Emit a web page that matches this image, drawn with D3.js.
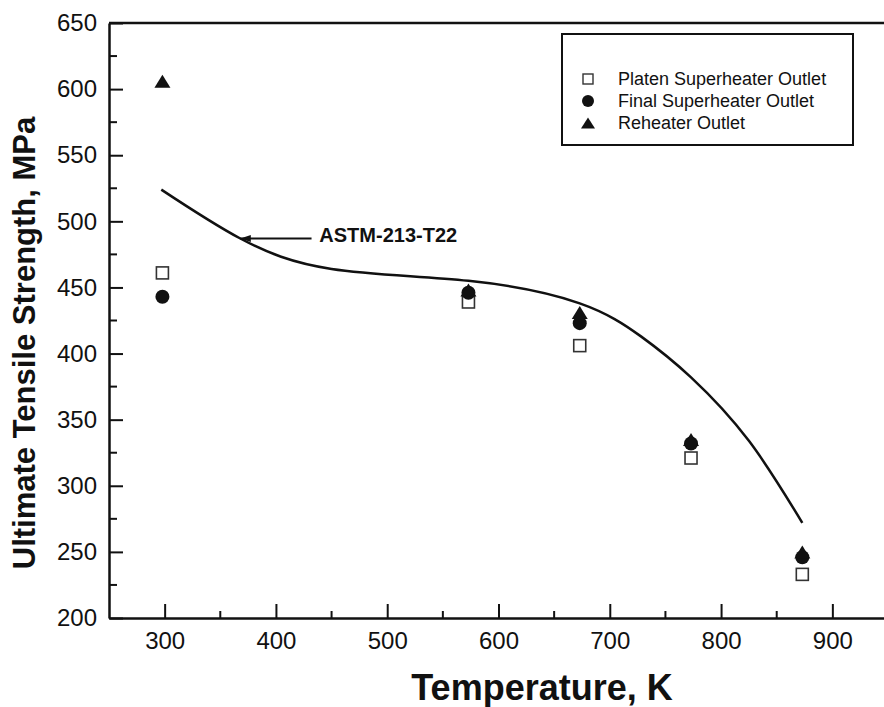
<!doctype html>
<html lang="en">
<head>
<meta charset="utf-8">
<title>Ultimate Tensile Strength vs Temperature</title>
<style>
  body { margin: 0; background: #fff; }
  svg { display: block; font-family: "Liberation Sans", Arial, sans-serif; }
</style>
</head>
<body>
<div id="chart"></div>
<script src="https://d3js.org/d3.v7.min.js"></script>
<script>
// measured data (temperature K, UTS MPa)
const temps = [298, 573, 673, 773, 873];
const platen = [461, 439, 406, 321, 233];
const finalSH = [443, 446, 423, 332, 246];
const reheater = [606, 448, 431, 335, 250];

// ASTM-213-T22 reference curve
const astmTemp = [297, 368, 450, 573, 673, 728, 773, 825, 873];
const astmUTS = [524, 487, 464, 455, 438, 413, 382, 334, 272];

const xTicks = [300, 400, 500, 600, 700, 800, 900];
const yTicks = [200, 250, 300, 350, 400, 450, 500, 550, 600, 650];
const legendLabels = ["Platen Superheater Outlet", "Final Superheater Outlet", "Reheater Outlet"];

const width = 884, height = 707;
const margin = {left: 109, top: 23, bottom: 618, right: 888};

const svg = d3.select("#chart").append("svg")
    .attr("width", width)
    .attr("height", height);

const x = d3.scaleLinear().domain([250, 950]).range([margin.left, margin.right]);
const y = d3.scaleLinear().domain([200, 650]).range([margin.bottom, margin.top]);

// minor ticks
const xMinor = d3.range(350, 950, 100);
const yMinor = d3.range(225, 650, 50);

svg.append("g").selectAll("line").data(xMinor).join("line")
    .attr("x1", d => x(d)).attr("x2", d => x(d))
    .attr("y1", margin.bottom).attr("y2", margin.bottom - 7)
    .attr("stroke", "#111").attr("stroke-width", 2);

svg.append("g").selectAll("line").data(yMinor).join("line")
    .attr("y1", d => y(d)).attr("y2", d => y(d))
    .attr("x1", margin.left).attr("x2", margin.left + 8)
    .attr("stroke", "#111").attr("stroke-width", 2);

// axes, ticks pointing inward
const xAxis = svg.append("g")
    .attr("transform", `translate(0,${margin.bottom})`)
    .call(d3.axisBottom(x).tickValues(xTicks).tickSize(-14).tickSizeOuter(0).tickPadding(14));

const yAxis = svg.append("g")
    .attr("transform", `translate(${margin.left},0)`)
    .call(d3.axisLeft(y).tickValues(yTicks).tickSize(-14).tickSizeOuter(0).tickPadding(12));

[xAxis, yAxis].forEach(g => {
    g.select(".domain").attr("stroke", "#111").attr("stroke-width", 2.5);
    g.selectAll(".tick line").attr("stroke", "#111").attr("stroke-width", 2);
    g.selectAll(".tick text")
        .attr("fill", "#111")
        .style("font-family", "'Liberation Sans', Arial, sans-serif")
        .style("font-size", "24px");
});

// top frame line
svg.append("line")
    .attr("x1", margin.left).attr("x2", margin.right)
    .attr("y1", margin.top).attr("y2", margin.top)
    .attr("stroke", "#111").attr("stroke-width", 2.5);

// axis titles
svg.append("text")
    .attr("x", 542).attr("y", 700)
    .attr("text-anchor", "middle")
    .style("font-weight", "bold").style("font-size", "36px")
    .attr("fill", "#111")
    .text("Temperature, K");

svg.append("text")
    .attr("transform", "translate(35,343) rotate(-90)")
    .attr("text-anchor", "middle")
    .style("font-weight", "bold").style("font-size", "31px")
    .attr("fill", "#111")
    .text("Ultimate Tensile Strength, MPa");

// ASTM curve
const line = d3.line()
    .x((d, i) => x(astmTemp[i]))
    .y(d => y(d))
    .curve(d3.curveNatural);

svg.append("path")
    .datum(astmUTS)
    .attr("d", line)
    .attr("fill", "none")
    .attr("stroke", "#111")
    .attr("stroke-width", 2.5);

// annotation with arrow
svg.append("defs").append("marker")
    .attr("id", "arrow")
    .attr("viewBox", "0 0 12 8")
    .attr("refX", 12).attr("refY", 4)
    .attr("markerWidth", 12).attr("markerHeight", 7)
    .attr("markerUnits", "userSpaceOnUse")
    .attr("orient", "auto")
    .append("path")
    .attr("d", "M0,0L12,4L0,8Z")
    .attr("fill", "#111");

svg.append("line")
    .attr("x1", x(432)).attr("x2", x(368))
    .attr("y1", y(487)).attr("y2", y(487))
    .attr("stroke", "#111").attr("stroke-width", 2)
    .attr("marker-end", "url(#arrow)");

svg.append("text")
    .attr("x", x(439)).attr("y", y(484))
    .style("font-weight", "bold").style("font-size", "20px")
    .attr("fill", "#111")
    .text("ASTM-213-T22");

// symbols
function triPath(cx, cy, w, h) {
    return `M${cx},${cy - h / 2}L${cx + w / 2},${cy + h / 2}L${cx - w / 2},${cy + h / 2}Z`;
}

svg.append("g").selectAll("rect").data(platen).join("rect")
    .attr("x", (d, i) => x(temps[i]) - 6)
    .attr("y", d => y(d) - 6)
    .attr("width", 12).attr("height", 12)
    .attr("fill", "#fff").attr("stroke", "#333").attr("stroke-width", 1.6);

svg.append("g").selectAll("circle").data(finalSH).join("circle")
    .attr("cx", (d, i) => x(temps[i]))
    .attr("cy", d => y(d))
    .attr("r", 7)
    .attr("fill", "#111");

svg.append("g").selectAll("path").data(reheater).join("path")
    .attr("d", (d, i) => triPath(x(temps[i]), y(d), 16, 13))
    .attr("fill", "#111");

// legend
const lg = svg.append("g");
lg.append("rect")
    .attr("x", 562).attr("y", 34).attr("width", 291).attr("height", 111)
    .attr("fill", "#fff").attr("stroke", "#111").attr("stroke-width", 2);

const rowY = [79, 101, 123];
lg.append("rect")
    .attr("x", 588 - 5).attr("y", rowY[0] - 5).attr("width", 10).attr("height", 10)
    .attr("fill", "#fff").attr("stroke", "#333").attr("stroke-width", 1.4);
lg.append("circle")
    .attr("cx", 588).attr("cy", rowY[1]).attr("r", 6).attr("fill", "#111");
lg.append("path")
    .attr("d", triPath(588, rowY[2], 14, 11)).attr("fill", "#111");

lg.selectAll("text").data(legendLabels).join("text")
    .attr("x", 618).attr("y", (d, i) => rowY[i] + 6)
    .style("font-size", "18px")
    .attr("fill", "#111")
    .text(d => d);
</script>
</body>
</html>
